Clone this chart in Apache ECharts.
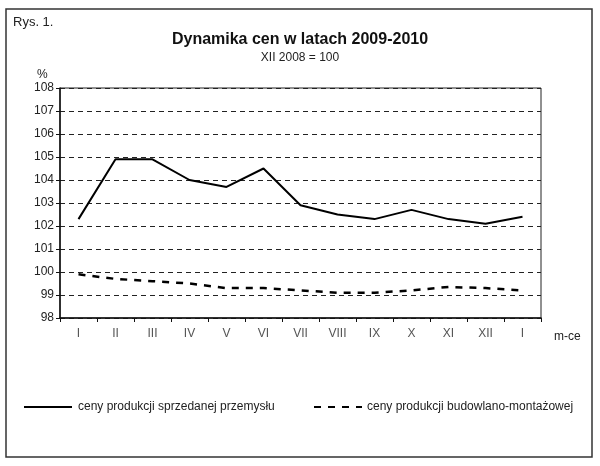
<!DOCTYPE html>
<html>
<head>
<meta charset="utf-8">
<script src="https://cdn.jsdelivr.net/npm/echarts@6/dist/echarts.min.js"></script>
<style>
  html, body { margin: 0; padding: 0; background: #fff; }
  #chart { width: 600px; height: 466px; }
</style>
</head>
<body>
<div id="chart"></div>
<script>
const months = ['I', 'II', 'III', 'IV', 'V', 'VI', 'VII', 'VIII', 'IX', 'X', 'XI', 'XII', 'I'];
const przemysl = [102.3, 104.9, 104.9, 104.0, 103.7, 104.5, 102.9, 102.5, 102.3, 102.7, 102.3, 102.1, 102.4];
const budowlanka = [99.9, 99.7, 99.6, 99.5, 99.3, 99.3, 99.2, 99.1, 99.1, 99.2, 99.35, 99.3, 99.2];

const nameA = 'ceny produkcji sprzedanej przemysłu';
const nameB = 'ceny produkcji budowlano-montażowej';

const chart = echarts.init(document.getElementById('chart'));

var option = {
  animation: false,
  textStyle: { fontFamily: 'Liberation Sans, Arial, sans-serif' },
  title: {
    text: 'Dynamika cen w latach 2009-2010',
    subtext: 'XII 2008 = 100',
    left: 'center',
    top: 27,
    itemGap: 4,
    textStyle: { fontSize: 16, fontWeight: 'bold', color: '#111' },
    subtextStyle: { fontSize: 12, color: '#222' }
  },
  graphic: [
    {
      type: 'rect',
      shape: { x: 6, y: 9, width: 586, height: 448 },
      style: { fill: 'none', stroke: '#333', lineWidth: 1.5 }
    },
    {
      type: 'text', left: 13, top: 16,
      style: { text: 'Rys. 1.', fontSize: 13, fill: '#222', fontFamily: 'Liberation Sans' }
    },
    {
      type: 'text', left: 37, top: 69,
      style: { text: '%', fontSize: 12, fill: '#222', fontFamily: 'Liberation Sans' }
    },
    {
      type: 'text', left: 554, top: 331,
      style: { text: 'm-ce', fontSize: 12, fill: '#222', fontFamily: 'Liberation Sans' }
    }
  ],
  legend: [
    {
      data: [nameA],
      left: 18, top: 396,
      itemWidth: 48, itemHeight: 14,
      itemStyle: { opacity: 0 },
      textStyle: { fontSize: 12, color: '#222', padding: [0, 0, 0, 1] }
    },
    {
      data: [nameB],
      left: 308, top: 396,
      itemWidth: 48, itemHeight: 14,
      itemStyle: { opacity: 0 },
      textStyle: { fontSize: 12, color: '#222', padding: [0, 0, 0, 0] }
    }
  ],
  grid: {
    left: 60, right: 59, top: 88, bottom: 148,
    show: true, borderColor: '#222', borderWidth: 1
  },
  xAxis: {
    type: 'category',
    data: months,
    boundaryGap: true,
    axisLine: { lineStyle: { color: '#111', width: 1.5 } },
    axisTick: { show: true, length: 4, lineStyle: { color: '#111' } },
    axisLabel: { fontSize: 12, color: '#555', margin: 10 }
  },
  yAxis: {
    type: 'value',
    min: 98, max: 108, interval: 1,
    axisLine: { show: true, lineStyle: { color: '#111', width: 1.5 } },
    axisTick: { show: true, length: 4, lineStyle: { color: '#111' } },
    axisLabel: { fontSize: 12, color: '#222', margin: 6 },
    splitLine: { lineStyle: { color: '#222', width: 1, type: [5, 4] } }
  },
  series: [
    {
      name: nameA,
      type: 'line',
      data: przemysl,
      symbol: 'none',
      lineStyle: { color: '#000', width: 2 },
      itemStyle: { color: '#000' }
    },
    {
      name: nameB,
      type: 'line',
      data: budowlanka,
      symbol: 'none',
      lineStyle: { color: '#000', width: 2.5, type: [7, 7] },
      itemStyle: { color: '#000' }
    }
  ]
};
chart.setOption(option);
</script>
</body>
</html>
